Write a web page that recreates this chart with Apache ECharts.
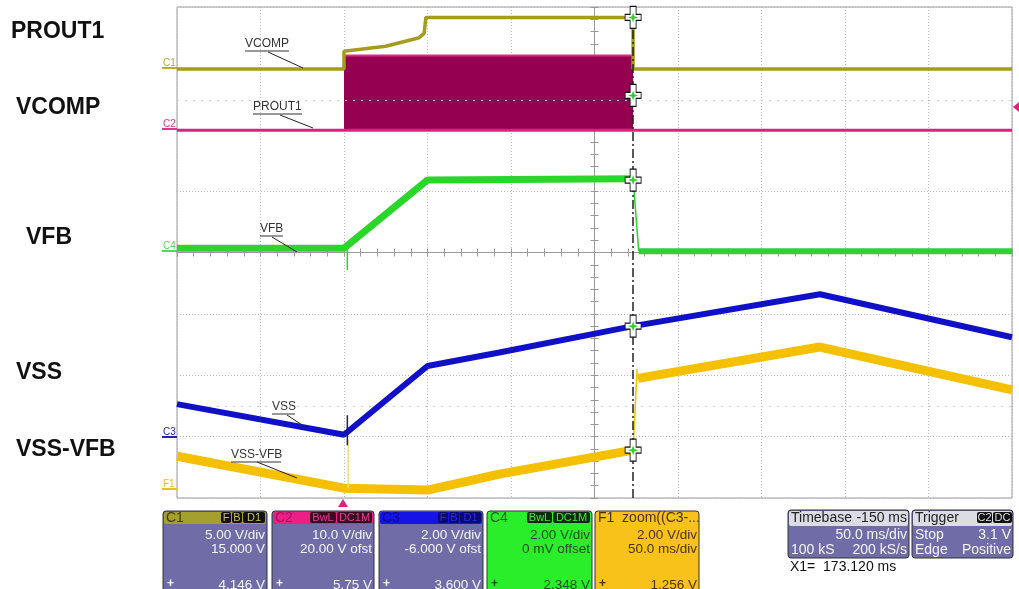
<!DOCTYPE html>
<html>
<head>
<meta charset="utf-8">
<script src="https://cdn.jsdelivr.net/npm/echarts@6/dist/echarts.min.js"></script>
<style>
  html, body { margin: 0; padding: 0; background: #fff; }
  #scope { width: 1019px; height: 589px; }
</style>
</head>
<body>
<div id="scope"></div>
<script>
// time in ms (trigger = 0), level in divisions from the bottom of the screen
const vcompT = [-100, 0, 0, 25, 45, 48, 49, 173.1, 173.1, 400];
const vcompV = [6.99, 6.99, 7.28, 7.36, 7.5, 7.57, 7.83, 7.83, 6.99, 6.99];

const proutT = [-100, 400];
const proutV = [5.99, 5.99];
const burstT = [0, 173.1];
const burstV = [7.21, 7.21];
const proutBase = 5.99;

const vfbT = [-100, 0, 50, 173.1];
const vfbV = [4.07, 4.07, 5.18, 5.2];
const vfbDropT = [173.1, 176.5];
const vfbDropV = [5.2, 4.02];
const vfbEndT = [176.5, 400];
const vfbEndV = [4.02, 4.02];
const vfbSpikeT = [2, 2];
const vfbSpikeV = [4.07, 3.71];

const vssT = [-100, 0, 50, 93, 173.1, 285, 400];
const vssV = [1.53, 1.03, 2.15, 2.37, 2.8, 3.32, 2.62];
const vssSpikeT = [2, 2];
const vssSpikeV = [1.35, 0.86];

const diffT = [-100, 0, 50, 93, 173.1];
const diffV = [0.68, 0.16, 0.13, 0.39, 0.78];
const diffJumpT = [173.1, 175.5];
const diffJumpV = [0.78, 2.1];
const diffEndT = [176, 285, 400];
const diffEndV = [1.95, 2.46, 1.76];
const diffSpikeT = [2.5, 2.5];
const diffSpikeV = [0.16, 0.94];

const cursorX = 173.12;
const cursorV = [7.83, 6.56, 5.18, 2.8, 0.78];
const refLevels = [6.48, 1.5];

const pts = (t, v) => t.map((x, i) => [x, v[i]]);

const chart = echarts.init(document.getElementById('scope'));

const FONT = '"Liberation Sans", Arial, sans-serif';
const BODY = '#6f6ca8';

function trace(name, t, v, color, width, z) {
    return {
        name, type: 'line', data: pts(t, v), showSymbol: false, z: z || 2,
        lineStyle: { color, width }, itemStyle: { color }
    };
}

function txt(text, x, y, fill, size, align, weight) {
    return {
        type: 'text', silent: true, z: 100,
        style: {
            text, x, y, fill,
            font: (weight || 'normal') + ' ' + size + 'px ' + FONT,
            align: align || 'left', verticalAlign: 'middle'
        }
    };
}

function rect(x, y, w, h, fill, stroke, r) {
    return {
        type: 'rect', silent: true, z: 90,
        shape: { x, y, width: w, height: h, r: r || 0 },
        style: { fill, stroke: stroke || null, lineWidth: 1 }
    };
}

function seg(x1, y1, x2, y2, color, w) {
    return {
        type: 'line', silent: true, z: 95,
        shape: { x1, y1, x2, y2 },
        style: { stroke: color, lineWidth: w || 1 }
    };
}

// annotation inside the screen: underlined label + leader line
function note(label, x, y, w, lx1, ly1, lx2, ly2) {
    return [
        txt(label, x, y, '#333', 12),
        seg(x, y + 7, x + w, y + 7, '#333', 1),
        seg(lx1, ly1, lx2, ly2, '#222', 1)
    ];
}

// small channel markers on the left edge of the screen
function chanMark(label, y, color) {
    return [
        txt(label, 163, y - 5, color, 10),
        seg(162, y, 177, y, color, 2)
    ];
}

function badges(list, y, bg, fg) {
    const out = [];
    list.forEach(([label, x, w]) => {
        out.push(rect(x, y, w, 11, bg, null, 2));
        out.push(txt(label, x + w / 2, y + 6, fg, 11, 'center'));
    });
    return out;
}

function chanPanel(p) {
    const els = [];
    els.push(rect(p.x, 511, p.w, 90, p.body, '#333', 3));
    els.push(rect(p.x + 1, 512, p.w - 2, 12, p.head, null, 2));
    els.push(txt(p.name, p.x + 3, 518, p.nameColor, 14));
    els.push(...badges(p.badges, 512, p.badgeBg, p.badgeFg));
    els.push(txt(p.l1, p.x + p.w - 2, 535, p.textColor, 13.5, 'right'));
    els.push(txt(p.l2, p.x + p.w - 2, 549, p.textColor, 13.5, 'right'));
    els.push(txt(p.icon, p.x + 4, 584, p.textColor, 12, 'left', 'bold'));
    els.push(txt(p.l3, p.x + p.w - 2, 585, p.textColor, 13.5, 'right'));
    return els;
}

const graphics = [
    txt('PROUT1', 11, 32, '#111', 23, 'left', 'bold'),
    txt('VCOMP', 16, 108, '#111', 23, 'left', 'bold'),
    txt('VFB', 26, 238, '#111', 23, 'left', 'bold'),
    txt('VSS', 16, 373, '#111', 23, 'left', 'bold'),
    txt('VSS-VFB', 16, 450, '#111', 23, 'left', 'bold'),

    ...note('VCOMP', 245, 44, 44, 268, 52, 303, 68),
    ...note('PROUT1', 253, 107, 49, 280, 115, 313, 128),
    ...note('VFB', 260, 229, 23, 272, 237, 297, 252),
    ...note('VSS', 272, 407, 23, 287, 415, 302, 425),
    ...note('VSS-VFB', 231, 455, 50, 257, 462, 297, 478),

    ...chanMark('C1', 68, '#b3ac3c'),
    ...chanMark('C2', 129, '#dd3590'),
    ...chanMark('C4', 251, '#55d855'),
    ...chanMark('C3', 437, '#2424b0'),
    ...chanMark('F1', 489, '#e6bd2a'),

    { type: 'polygon', silent: true, z: 96, shape: { points: [[338, 507], [348, 507], [343, 499]] }, style: { fill: '#e0207f' } },
    { type: 'polygon', silent: true, z: 96, shape: { points: [[1019, 102], [1019, 112], [1013, 107]] }, style: { fill: '#e0207f' } },

    ...chanPanel({
        x: 163, w: 104, body: BODY, head: '#a59f2c', name: 'C1', nameColor: '#3f3c08',
        badges: [['F', 221, 10], ['B', 232, 10], ['D1', 243, 22]], badgeBg: '#111', badgeFg: '#c6bf4a',
        l1: '5.00 V/div', l2: '15.000 V', l3: '4.146 V', icon: '+', textColor: '#f4f4ff'
    }),
    ...chanPanel({
        x: 272, w: 102, body: BODY, head: '#ec1f85', name: 'C2', nameColor: '#a8105a',
        badges: [['BwL', 310, 26], ['DC1M', 337, 35]], badgeBg: '#3a0a20', badgeFg: '#ee3a95',
        l1: '10.0 V/div', l2: '20.00 V ofst', l3: '5.75 V', icon: '+', textColor: '#f4f4ff'
    }),
    ...chanPanel({
        x: 379, w: 104, body: BODY, head: '#1414e6', name: 'C3', nameColor: '#0a0a90',
        badges: [['F', 438, 10], ['B', 449, 10], ['D1', 460, 21]], badgeBg: '#0a0a70', badgeFg: '#2a2af0',
        l1: '2.00 V/div', l2: '-6.000 V ofst', l3: '3.600 V', icon: '+', textColor: '#f4f4ff'
    }),
    ...chanPanel({
        x: 487, w: 105, body: '#2aee2a', head: '#2aee2a', name: 'C4', nameColor: '#1f5a1f',
        badges: [['BwL', 527, 25], ['DC1M', 553, 37]], badgeBg: '#0c2a0c', badgeFg: '#3af03a',
        l1: '2.00 V/div', l2: '0 mV offset', l3: '2.348 V', icon: '+', textColor: '#1d4d1d'
    }),
    ...chanPanel({
        x: 595, w: 104, body: '#f8c21a', head: '#f8c21a', name: 'F1  zoom((C3-...', nameColor: '#4a3300',
        badges: [], badgeBg: '#000', badgeFg: '#000',
        l1: '2.00 V/div', l2: '50.0 ms/div', l3: '1.256 V', icon: '+', textColor: '#4a3300'
    }),

    rect(788, 510, 121, 48, BODY, '#333', 3),
    rect(789, 511, 119, 15, '#dcdce6', null, 2),
    txt('Timebase', 791, 518, '#222', 14),
    txt('-150 ms', 907, 518, '#222', 14, 'right'),
    txt('50.0 ms/div', 907, 535, '#f4f4ff', 14, 'right'),
    txt('100 kS', 791, 550, '#f4f4ff', 14),
    txt('200 kS/s', 907, 550, '#f4f4ff', 14, 'right'),

    rect(912, 510, 101, 48, BODY, '#333', 3),
    rect(913, 511, 99, 15, '#dcdce6', null, 2),
    txt('Trigger', 915, 518, '#222', 14),
    ...badges([['C2', 977, 15], ['DC', 993, 19]], 512, '#111', '#dcdce6'),
    txt('Stop', 915, 535, '#f4f4ff', 14),
    txt('3.1 V', 1011, 535, '#f4f4ff', 14, 'right'),
    txt('Edge', 915, 550, '#f4f4ff', 14),
    txt('Positive', 1011, 550, '#f4f4ff', 14, 'right'),

    txt('X1=  173.120 ms', 790, 567, '#111', 14)
];

const centerAxis = (inside) => ({
    type: 'value', min: -100, max: 400, interval: 50,
    position: 'bottom', offset: -245.5,
    axisLine: { show: !inside, lineStyle: { color: '#9a9a9a' } },
    axisTick: { show: true, inside, length: 4, lineStyle: { color: '#9a9a9a' } },
    minorTick: { show: true, splitNumber: 5, length: 4, lineStyle: { color: '#9a9a9a' } },
    axisLabel: { show: false }, splitLine: { show: false }
});

const centerYAxis = (inside) => ({
    type: 'value', min: 0, max: 8, interval: 1,
    position: 'left', offset: -417.5,
    axisLine: { show: !inside, lineStyle: { color: '#9a9a9a' } },
    axisTick: { show: true, inside, length: 4, lineStyle: { color: '#9a9a9a' } },
    minorTick: { show: true, splitNumber: 5, length: 4, lineStyle: { color: '#9a9a9a' } },
    axisLabel: { show: false }, splitLine: { show: false }
});

chart.setOption({
    animation: false,
    backgroundColor: '#fff',
    grid: {
        left: 177, top: 7, width: 835, height: 491,
        show: true, borderColor: '#9a9a9a', borderWidth: 1,
        outerBoundsMode: 'none'
    },
    xAxis: [
        {
            type: 'value', min: -100, max: 400, interval: 50,
            axisLine: { show: false }, axisTick: { show: false }, axisLabel: { show: false },
            splitLine: { lineStyle: { color: '#b8b8b8', type: [1, 2] } }
        },
        centerAxis(false),
        centerAxis(true)
    ],
    yAxis: [
        {
            type: 'value', min: 0, max: 8, interval: 1,
            axisLine: { show: false }, axisTick: { show: false }, axisLabel: { show: false },
            splitLine: { lineStyle: { color: '#b8b8b8', type: [1, 2] } }
        },
        centerYAxis(false),
        centerYAxis(true)
    ],
    series: [
        {
            name: 'PROUT1 burst', type: 'line', data: pts(burstT, burstV), showSymbol: false, z: 1,
            lineStyle: { color: '#e02880', width: 2 },
            areaStyle: { color: '#960050', opacity: 1, origin: proutBase },
            markLine: {
                silent: true, symbol: 'none', label: { show: false },
                lineStyle: { color: '#cfcfcf', type: [2, 6], width: 1 },
                data: refLevels.map(v => ({ yAxis: v }))
            }
        },
        trace('VCOMP', vcompT, vcompV, '#a39c1e', 3.5, 3),
        trace('PROUT1', proutT, proutV, '#e0207f', 3, 3),
        trace('VFB', vfbT, vfbV, '#2bd62b', 7, 4),
        trace('VFB drop', vfbDropT, vfbDropV, '#2bd62b', 1.5, 4),
        trace('VFB end', vfbEndT, vfbEndV, '#2bd62b', 6, 4),
        trace('VFB spike', vfbSpikeT, vfbSpikeV, '#2bd62b', 1.5, 4),
        trace('VSS-VFB', diffT, diffV, '#f5c000', 9, 4),
        trace('VSS-VFB jump', diffJumpT, diffJumpV, '#f5c000', 1.5, 4),
        trace('VSS-VFB end', diffEndT, diffEndV, '#f5c000', 9, 4),
        trace('VSS-VFB spike', diffSpikeT, diffSpikeV, '#f3dc80', 1.5, 4),
        trace('VSS', vssT, vssV, '#1010c8', 6, 5),
        trace('VSS spike', vssSpikeT, vssSpikeV, '#202060', 1.5, 5),
        {
            name: 'cursor', type: 'scatter', z: 10,
            data: cursorV.map(v => [cursorX, v]),
            symbol: 'path://M5,0L11,0L11,8L16,8L16,14L11,14L11,22L5,22L5,14L0,14L0,8L5,8Z',
            symbolSize: [16, 22],
            itemStyle: { color: '#fff', borderColor: '#111', borderWidth: 1, opacity: 1 },
            markLine: {
                silent: true, symbol: 'none', label: { show: false },
                lineStyle: { color: '#222', type: [9, 3, 2, 3], width: 1.5 },
                data: [{ xAxis: cursorX }]
            }
        },
        {
            name: 'cursor star', type: 'scatter', z: 11,
            data: cursorV.map(v => [cursorX, v]),
            symbol: 'path://M4,0L5,3L8,4L5,5L4,8L3,5L0,4L3,3Z',
            symbolSize: 10,
            itemStyle: { color: '#33cc33', opacity: 1 }
        }
    ],
    graphic: graphics
});
</script>
</body>
</html>
